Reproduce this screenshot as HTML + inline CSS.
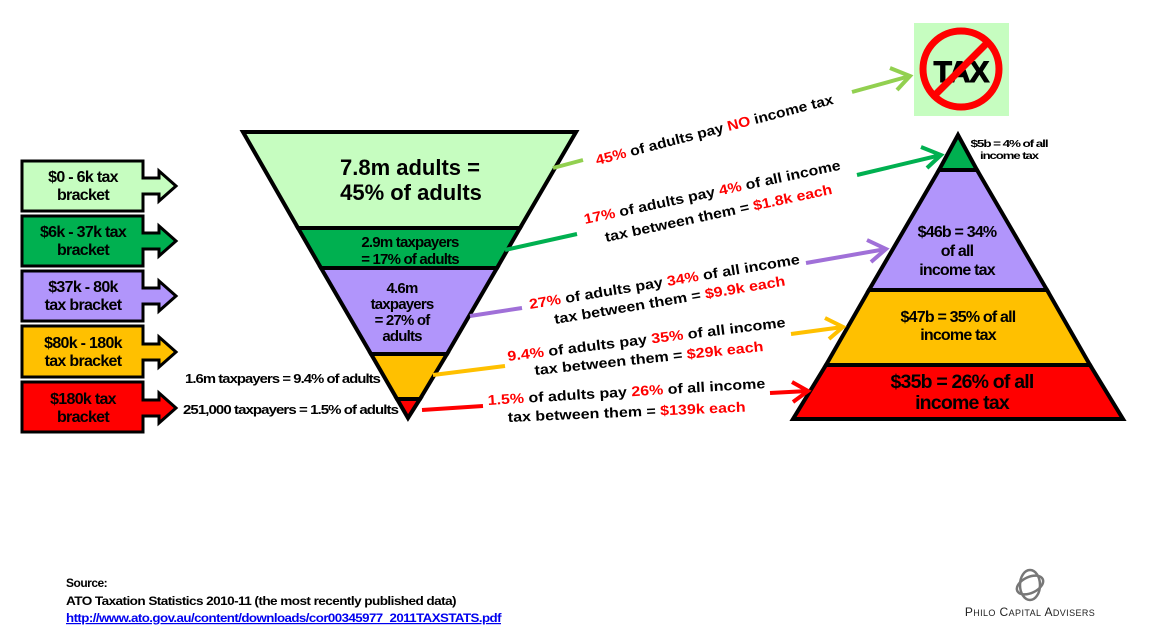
<!DOCTYPE html>
<html><head><meta charset="utf-8"><style>
body{margin:0;background:#fff;width:1149px;height:628px;overflow:hidden}
svg{display:block;font-family:"Liberation Sans",Arial,sans-serif}
.b{font-weight:bold}
</style></head><body>
<svg width="1149" height="628" viewBox="0 0 1149 628">
<!-- left bracket boxes -->
<g stroke="#000" stroke-width="3" stroke-linejoin="miter">
<polygon points="22,161 143,161 143,178 159,178 159,171 176,186 159,201 159,194 143,194 143,211 22,211" fill="#c6fdc0"/>
<polygon points="22,216 143,216 143,233 159,233 159,226 176,241 159,256 159,249 143,249 143,266 22,266" fill="#00b050"/>
<polygon points="22,271 143,271 143,288 159,288 159,281 176,296 159,311 159,304 143,304 143,321 22,321" fill="#b195fb"/>
<polygon points="22,326 143,326 143,344 159,344 159,337 176,352 159,367 159,360 143,360 143,377 22,377" fill="#ffc000"/>
<polygon points="22,382 143,382 143,400 159,400 159,393 176,408 159,423 159,416 143,416 143,432 22,432" fill="#ff0000"/>
</g>
<g class="b" font-size="16" text-anchor="middle" fill="#000" letter-spacing="-0.7">
<text x="83" y="182">$0 - 6k tax</text><text x="83" y="200">bracket</text>
<text x="83" y="237">$6k - 37k tax</text><text x="83" y="255">bracket</text>
<text x="83" y="292">$37k - 80k</text><text x="83" y="310">tax bracket</text>
<text x="83" y="348">$80k - 180k</text><text x="83" y="366">tax bracket</text>
<text x="83" y="404">$180k tax</text><text x="83" y="422">bracket</text>
</g>
<!-- inverted triangle -->
<g stroke="#000" stroke-width="4" stroke-linejoin="miter">
<polygon points="243,132 576,132 520,228 298,228" fill="#c6fdc0"/>
<polygon points="298,228 520,228 497,268 321,268" fill="#00b050"/>
<polygon points="321,268 497,268 447,354 371,354" fill="#b195fb"/>
<polygon points="371,354 447,354 420,399 397,399" fill="#ffc000"/>
<polygon points="397,399 420,399 408,418" fill="#ff0000"/>
</g>
<g class="b" text-anchor="middle" fill="#000">
<text x="410" y="175" font-size="22">7.8m adults  =</text>
<text x="411" y="200" font-size="22">45%  of adults</text>
<text x="410" y="247" font-size="15" letter-spacing="-0.8">2.9m  taxpayers</text>
<text x="410" y="264" font-size="15" letter-spacing="-0.8">= 17% of adults</text>
<text x="402" y="293" font-size="15" letter-spacing="-0.8">4.6m</text>
<text x="402" y="309" font-size="15" letter-spacing="-0.8">taxpayers</text>
<text x="402" y="325" font-size="15" letter-spacing="-0.8">= 27% of</text>
<text x="402" y="341" font-size="15" letter-spacing="-0.8">adults</text>
</g>
<g class="b" font-size="13" fill="#000" letter-spacing="-0.8">
<text x="185" y="383" textLength="195" lengthAdjust="spacingAndGlyphs">1.6m taxpayers = 9.4%  of adults</text>
<text x="183" y="414" textLength="215" lengthAdjust="spacingAndGlyphs">251,000 taxpayers  = 1.5%  of adults</text>
</g>
<!-- pyramid -->
<g stroke="#000" stroke-width="4" stroke-linejoin="miter">
<polygon points="958,135 977,170 939,170" fill="#00b050"/>
<polygon points="939,170 977,170 1047,290 869,290" fill="#b195fb"/>
<polygon points="869,290 1047,290 1090,365 826,365" fill="#ffc000"/>
<polygon points="826,365 1090,365 1123,419 793,419" fill="#ff0000"/>
</g>
<g class="b" text-anchor="middle" fill="#000" letter-spacing="-0.8">
<text x="1009" y="147" font-size="10" textLength="77" lengthAdjust="spacingAndGlyphs">$5b  = 4% of all</text>
<text x="1009" y="159" font-size="10" textLength="58" lengthAdjust="spacingAndGlyphs">income tax</text>
<text x="957" y="237" font-size="16">$46b  = 34%</text>
<text x="957" y="256" font-size="16">of all</text>
<text x="957" y="275" font-size="16">income tax</text>
<text x="958" y="322" font-size="16">$47b  = 35% of all</text>
<text x="958" y="340" font-size="16">income tax</text>
<text x="962" y="388" font-size="19.5">$35b  = 26% of all</text>
<text x="962" y="409" font-size="19.5">income tax</text>
</g>
<!-- no tax icon -->
<rect x="914" y="23" width="95" height="93" fill="#c6fdc0"/>
<text x="961" y="82" text-anchor="middle" font-weight="900" font-size="30" fill="#000" letter-spacing="-1" stroke="#000" stroke-width="1">TAX</text>
<circle cx="961" cy="69" r="38" fill="none" stroke="#f00" stroke-width="7"/>
<line x1="988" y1="42" x2="934" y2="96" stroke="#f00" stroke-width="7"/>
<!-- connectors -->
<g stroke-width="4" fill="none" stroke-linecap="butt">
<g stroke="#92d050"><line x1="553" y1="168" x2="583" y2="160"/><line x1="852" y1="92" x2="910" y2="76"/><polyline points="890,68 910,76 897,90"/></g>
<g stroke="#00b050"><line x1="505" y1="250" x2="577" y2="234"/><line x1="857" y1="175" x2="941" y2="155"/><polyline points="921,147 941,155 927,168"/></g>
<g stroke="#a070d8"><line x1="470" y1="316" x2="522" y2="308"/><line x1="806" y1="263" x2="886" y2="249"/><polyline points="867,240 886,249 871,262"/></g>
<g stroke="#ffc000"><line x1="433" y1="375" x2="505" y2="366"/><line x1="791" y1="334" x2="843" y2="327"/><polyline points="825,318 843,327 829,339"/></g>
<g stroke="#ff0000"><line x1="422" y1="410" x2="483" y2="406"/><line x1="770" y1="393" x2="808" y2="391"/><polyline points="792,382 808,391 793,402"/></g>
</g>
<!-- rotated labels -->
<g class="b" font-size="14" fill="#000">
<text transform="translate(597,165) rotate(-14.5)" textLength="245" lengthAdjust="spacingAndGlyphs"><tspan fill="#f00">45%</tspan> of adults pay <tspan fill="#f00">NO</tspan> income tax</text>
<text transform="translate(585,224) rotate(-12)" textLength="262" lengthAdjust="spacingAndGlyphs"><tspan fill="#f00">17%</tspan> of adults pay <tspan fill="#f00">4%</tspan> of all income</text>
<text transform="translate(606,242) rotate(-12)" textLength="232" lengthAdjust="spacingAndGlyphs">tax between them = <tspan fill="#f00">$1.8k each</tspan></text>
<text transform="translate(530,309) rotate(-9.5)" textLength="274" lengthAdjust="spacingAndGlyphs"><tspan fill="#f00">27%</tspan> of adults pay <tspan fill="#f00">34%</tspan> of all income</text>
<text transform="translate(555,324) rotate(-9.5)" textLength="234" lengthAdjust="spacingAndGlyphs">tax between them = <tspan fill="#f00">$9.9k each</tspan></text>
<text transform="translate(508,361) rotate(-7)" textLength="280" lengthAdjust="spacingAndGlyphs"><tspan fill="#f00">9.4%</tspan> of adults pay <tspan fill="#f00">35%</tspan> of all income</text>
<text transform="translate(535,375) rotate(-6)" textLength="230" lengthAdjust="spacingAndGlyphs">tax between them = <tspan fill="#f00">$29k each</tspan></text>
<text transform="translate(488,405) rotate(-3.5)" textLength="278" lengthAdjust="spacingAndGlyphs"><tspan fill="#f00">1.5%</tspan> of adults pay <tspan fill="#f00">26%</tspan> of all income</text>
<text transform="translate(508,422) rotate(-2.5)" textLength="238" lengthAdjust="spacingAndGlyphs">tax between them = <tspan fill="#f00">$139k each</tspan></text>
</g>
<!-- source -->
<g font-size="12" class="b" fill="#000" letter-spacing="-0.5">
<text x="66" y="587">Source:</text>
<text x="66" y="605" textLength="390" lengthAdjust="spacingAndGlyphs">ATO Taxation Statistics 2010-11 (the most recently published data)</text>
<text x="66" y="622" fill="#0000ee" text-decoration="underline" textLength="435" lengthAdjust="spacingAndGlyphs">http://www.ato.gov.au/content/downloads/cor00345977_2011TAXSTATS.pdf</text>
</g>
<!-- logo -->
<g fill="none" stroke="#777" stroke-width="2.5">
<ellipse cx="1030" cy="585" rx="10" ry="15"/>
<ellipse cx="1030" cy="585" rx="14" ry="8" transform="rotate(-25 1030 585)"/>
</g>
<text x="1030" y="616" text-anchor="middle" font-size="12" fill="#222" letter-spacing="0.4">P<tspan font-size="9">HILO</tspan> C<tspan font-size="9">APITAL</tspan> A<tspan font-size="9">DVISERS</tspan></text>
</svg>
</body></html>
